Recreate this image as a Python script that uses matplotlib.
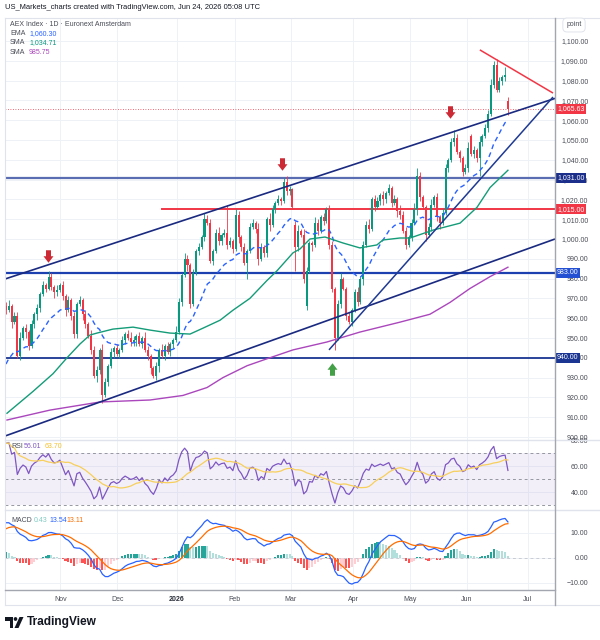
import numpy as np
import matplotlib
matplotlib.use("Agg")
import matplotlib.pyplot as plt
import matplotlib.transforms as mtransforms
from matplotlib.path import Path
from matplotlib.lines import Line2D
from matplotlib.patches import Polygon, Circle

plt.rcParams['font.family'] = ['Liberation Sans', 'DejaVu Sans']

# ---------------- data ----------------
closes = [
    964, 966, 958, 961, 941, 950, 955, 953, 946,
    957, 962, 965, 972, 977, 975, 981, 976, 973,
    974, 977, 971, 964, 969, 961, 952, 967,
    969, 962, 957, 951, 944, 931, 934, 944, 921,
    928, 936, 943, 945, 942, 944, 949, 952, 950,
    948, 949, 951, 947, 950, 944, 941, 935,
    931, 936, 944, 941, 946, 943, 947, 949, 953,
    968, 982, 990, 987, 967, 983, 994, 996, 1001,
    1010, 1008, 989, 994, 1003, 999, 1002, 1003,
    997, 999, 995, 1012, 1001, 996, 988, 994, 1006,
    1008, 1005, 990, 996, 993, 1010, 1007, 1015, 1018,
    1020, 1019, 1029, 1024, 1025, 1016, 996, 1004, 1002,
    980, 984, 998, 997, 1008, 1004, 1011, 1009, 1015,
    997, 975, 950, 967, 980, 975, 961, 958,
    964, 973, 968, 980, 997, 1007, 1005, 1020, 1016,
    1019, 1022, 1020, 1023, 1026, 1018, 1020, 1014, 1012,
    1004, 997, 1001, 1008, 1015, 1032, 1021, 1016,
    1002, 1006, 1017, 1021, 1011, 1008, 1013, 1036, 1040,
    1049, 1051, 1044, 1041, 1034, 1036, 1046, 1043, 1045,
    1041, 1049, 1052, 1056, 1063, 1078, 1088, 1075,
    1080, 1082, 1083, 1065.63,
]
up_wick = [
    2, 3, 1, 2, 2, 3, 1, 2, 1,
    2, 1, 2, 1, 2, 1, 3, 2, 1,
    3, 1, 2, 1, 2, 1, 2, 1,
    2, 1, 2, 1, 3, 2, 2, 1, 3,
    2, 1, 2, 1, 2, 1, 2, 1, 2,
    3, 2, 1, 2, 1, 3, 2, 1,
    1, 2, 1, 3, 1, 2, 1, 1, 3,
    2, 1, 3, 2, 1, 2, 1, 2, 1,
    3, 2, 2, 1, 2, 3, 1, 2,
    14, 2, 1, 3, 2, 1, 2, 1, 2,
    2, 1, 3, 2, 1, 1, 3, 2, 1,
    2, 1, 2, 3, 2, 1, 2, 3, 1,
    3, 2, 1, 1, 3, 2, 1, 2, 1,
    2, 2, 1, 2, 3, 1, 1, 2,
    1, 2, 3, 1, 2, 2, 3, 1, 2,
    2, 1, 2, 1, 2, 1, 2, 1, 3,
    2, 2, 1, 2, 3, 4, 2, 1,
    1, 2, 3, 1, 2, 1, 2, 2, 1,
    2, 4, 2, 1, 1, 2, 3, 1, 2,
    1, 3, 1, 2, 2, 3, 2, 3,
    2, 1, 4, 2,
]
down_wick = [
    2, 1, 3, 1, 1, 2, 1, 3, 2,
    1, 2, 3, 2, 1, 2, 1, 2, 3,
    2, 1, 2, 3, 1, 2, 2, 2,
    1, 3, 2, 1, 2, 1, 3, 2, 4,
    1, 2, 1, 3, 1, 2, 1, 2, 1,
    2, 2, 3, 1, 2, 1, 2, 3,
    1, 2, 3, 1, 2, 1, 2, 2, 1,
    1, 2, 1, 3, 2, 1, 1, 2, 1,
    2, 1, 1, 2, 1, 2, 2, 1,
    2, 1, 2, 1, 3, 2, 1, 8, 1,
    1, 2, 3, 1, 2, 2, 3, 1, 2,
    1, 2, 1, 2, 2, 1, 12, 2, 1,
    2, 2, 1, 3, 1, 2, 1, 2, 1,
    2, 2, 6, 1, 2, 1, 2, 1,
    2, 1, 2, 1, 3, 1, 2, 1, 2,
    1, 2, 3, 2, 1, 2, 1, 3, 2,
    1, 2, 1, 2, 1, 3, 2, 1,
    3, 1, 2, 1, 2, 3, 1, 1, 2,
    1, 2, 1, 2, 2, 1, 2, 1, 2,
    2, 9, 2, 1, 2, 1, 2, 1,
    1, 2, 2, 3,
]
open_override = {102: 1007, 106: 966, 164: 1052, 177: 1069.5}

sma50_bar = [0.35, 9.5, 16.6, 21.5, 26.1, 29.6, 32.1, 37.7, 44.8, 50.8, 57.8, 64.9,
             69.5, 75.5, 80, 86, 92, 95.6, 101.2, 103.7, 107.2, 112.5, 118.8, 124.8,
             130.8, 132.9, 138.9, 142.5, 150.6, 160.1, 166.1, 170.7, 177]
sma50_val = [912, 923, 932, 940, 947, 951.5, 952.5, 954.5, 955.5, 954, 952.5, 952,
             955, 959, 964, 970, 979, 984, 993, 995, 1000, 1001, 998, 995.5,
             997, 999.5, 1000.5, 1000.5, 1004.5, 1008, 1016, 1026, 1034.71]
sma200_bar = [0.35, 15.5, 33.1, 50.8, 62.4, 70.9, 76.5, 85, 92, 101.2, 113.2, 124.8,
              138.9, 149.5, 156.6, 163.6, 170.7, 177]
sma200_val = [908.6, 913.6, 917.7, 918.7, 921, 925, 930, 936, 939.5, 944, 948, 953,
              958, 962, 968, 975, 981, 985.75]

ema_seed = 934.0
macd_seed = (951.0, 937.0, 11.0)   # EMA12, EMA26, signal before the first bar
rsi_seed = (4.0, 1.2)              # average gain / loss before the first bar

month_pos = [19.2, 39.3, 60.3, 80.7, 100.5, 122.4, 142.5, 162.4, 184.0]
month_lab = ['Nov', 'Dec', '2026', 'Feb', 'Mar', 'Apr', 'May', 'Jun', 'Jul']
price_ticks = list(range(900, 1101, 10))
rsi_ticks = [40, 60, 80]
macd_ticks = [-10, 0, 10]

# drawings (bar index, price)
upper_channel = [(-0.35, 979.8), (193.6, 1071.0)]
lower_channel = [(-0.35, 900.5), (193.6, 1000.0)]
rising_line = [(113.9, 944.0), (192.9, 1071.7)]
falling_line = [(167.1, 1095.5), (192.9, 1073.7)]
level_lines = [(1031.0, -0.35, '#5a6db3', 1.6, '#1c2f8a'),
               (1015.0, 55.0, '#f23645', 1.4, '#f23645'),
               (983.0, -0.35, '#1c40b0', 1.6, '#2451d4'),
               (940.0, -0.35, '#1a3592', 1.3, '#1a3592')]
down_arrows = [(14.8, 991.4), (97.5, 1037.9), (156.6, 1063.9)]
up_arrows = [(115.1, 934.6)]

legend_ema, legend_sma50, legend_sma200 = '1,060.30', '1,034.71', '985.75'
rsi_legend = ('56.01', '63.70')
macd_legend = ('0.43', '13.54', '13.11')

# ---------------- computations ----------------
c = np.array(closes, dtype=float)
n = len(c)
x = np.arange(n)
o = np.concatenate([[c[0] + 2], c[:-1]])
for k, v in open_override.items():
    o[k] = v
hi = np.maximum(o, c) + np.array(up_wick)
lo = np.minimum(o, c) - np.array(down_wick)

ema = np.empty(n); e = ema_seed
for i in range(n):
    e += 2 / 21 * (c[i] - e); ema[i] = e

e12, e26, sg = macd_seed
macd = np.empty(n); sig = np.empty(n)
for i in range(n):
    e12 += 2 / 13 * (c[i] - e12)
    e26 += 2 / 27 * (c[i] - e26)
    m = e12 - e26
    sg += 2 / 10 * (m - sg)
    macd[i] = m; sig[i] = sg
hist = macd - sig

ag, al = rsi_seed
rsi = np.empty(n)
prev = c[0] - 2
for i in range(n):
    ch = c[i] - prev; prev = c[i]
    ag = (ag * 13 + max(ch, 0)) / 14
    al = (al * 13 + max(-ch, 0)) / 14
    rsi[i] = 100 - 100 / (1 + ag / al)
rsi_ma = np.array([rsi[max(0, i - 13):i + 1].mean() for i in range(n)])

# ---------------- figure ----------------
W, H = 600, 640
fig = plt.figure(figsize=(6, 6.4), dpi=100)
L, R = 5, 555
XL = (-0.35, 193.6)
GRID = '#eef1f6'
TXT = '#4a4d57'


def pane(top, bot):
    a = fig.add_axes([L / W, 1 - bot / H, (R - L) / W, (bot - top) / H])
    for s in a.spines.values():
        s.set_visible(False)
    a.set_xlim(*XL)
    a.set_xticks(month_pos)
    a.tick_params(axis='x', length=0, labelbottom=False)
    a.yaxis.tick_right()
    a.tick_params(axis='y', length=0, pad=24, labelsize=5, labelcolor=TXT)
    a.grid(True, color=GRID, lw=0.7)
    a.set_axisbelow(True)
    return a


ax = pane(18, 440)
ar = pane(440, 510)
am = pane(510, 590)

# main pane
ax.set_ylim(898.5, 1111.6)
ax.set_yticks(price_ticks)
ax.set_yticklabels([f'{v:,.2f}' for v in price_ticks])
for lbl in ax.get_yticklabels():
    lbl.set_ha('right')

UP, DN = '#089981', '#f23645'
cols = np.where(c >= o, UP, DN)
ax.vlines(x, lo, hi, colors=cols, lw=0.6, zorder=3)
body = np.maximum(np.abs(c - o), 0.5)
ax.bar(x, body, bottom=np.minimum(o, c), width=0.72, color=cols, lw=0, zorder=3)

ax.plot(x, ema, color='#2962ff', lw=1.0, dashes=(3.5, 2.6), zorder=4)
ax.plot(sma50_bar, sma50_val, color='#149c78', lw=1.0, zorder=4)
ax.plot(sma200_bar, sma200_val, color='#ab47bc', lw=1.0, zorder=4)

for (y, x0, col, lw, _) in level_lines:
    ax.plot([x0, XL[1]], [y, y], color=col, lw=lw, zorder=2)
for seg, col, lw in [(upper_channel, '#1a2a80', 1.2), (lower_channel, '#1a2a80', 1.2),
                     (rising_line, '#1f3a93', 1.1), (falling_line, '#f23645', 1.1)]:
    (xa, ya), (xb, yb) = seg
    ax.plot([xa, xb], [ya, yb], color=col, lw=lw, zorder=5, solid_capstyle='butt')

ax.axhline(c[-1], color='#f23645', lw=0.6, ls=(0, (1, 2)), zorder=2)

arrow_down = Path([(-0.2, 0.5), (0.2, 0.5), (0.2, 0.02), (0.4, 0.02), (0, -0.5),
                   (-0.4, 0.02), (-0.2, 0.02), (-0.2, 0.5)],
                  [Path.MOVETO] + [Path.LINETO] * 6 + [Path.CLOSEPOLY])
arrow_up = Path([(px, -py) for px, py in arrow_down.vertices], arrow_down.codes)
for bx, by in down_arrows:
    ax.plot([bx], [by], marker=arrow_down, ms=9, color='#cc2b36', mec='#cc2b36', mew=0, zorder=6)
for bx, by in up_arrows:
    ax.plot([bx], [by], marker=arrow_up, ms=9, color='#43a047', mec='#43a047', mew=0, zorder=6)

# price labels on the axis
tb = mtransforms.blended_transform_factory(ax.transAxes, ax.transData)
xa_lbl = (557 - L) / (R - L)
box_items = [(c[-1], '#f23645')] + [(y, bc) for (y, _, _, _, bc) in level_lines]
for y, bc in box_items:
    ax.text(xa_lbl, y, f'{y:,.2f}', transform=tb, fontsize=5, color='white', ha='left',
            va='center', bbox=dict(boxstyle='square,pad=0.22', fc=bc, ec='none'), zorder=10,
            clip_on=False)

# RSI pane
ar.set_ylim(26.3, 80.2)
ar.set_yticks(rsi_ticks)
ar.set_yticklabels([f'{v:.2f}' for v in rsi_ticks])
for lbl in ar.get_yticklabels():
    lbl.set_ha('right')
ar.fill_between(XL, 30, 70, color='#7e57c2', alpha=0.09, lw=0)
for lv in (70, 50, 30):
    ar.axhline(lv, color='#9598a1', lw=0.7, dashes=(3, 3))
ar.plot(x, rsi, color='#7e57c2', lw=0.9)
ar.plot(x, rsi_ma, color='#f7cf5a', lw=0.9)

# MACD pane
am.set_ylim(-12.9, 19.1)
am.set_yticks(macd_ticks)
am.set_yticklabels(['\u221210.00', '0.00', '10.00'])
for lbl in am.get_yticklabels():
    lbl.set_ha('right')
am.axhline(0, color='#c9ccd3', lw=0.7, dashes=(3, 3))
hcol = []
for i, h in enumerate(hist):
    ph = hist[i - 1] if i > 0 else h
    if h >= 0:
        hcol.append('#26a69a' if h >= ph else '#b2dfdb')
    else:
        hcol.append('#ff5252' if h < ph else '#ffcdd2')
am.bar(x, hist, width=0.75, color=hcol, lw=0)
am.plot(x, macd, color='#2962ff', lw=0.9)
am.plot(x, sig, color='#ff6d00', lw=0.9)

am.tick_params(axis='x', labelbottom=True, labelsize=5, labelcolor=TXT, pad=4)
am.set_xticklabels(month_lab)
for lbl in am.get_xticklabels():
    if lbl.get_text() == '2026':
        lbl.set_fontweight('bold')
        lbl.set_color('#2a2e39')


# frame lines
def fline(xs, ys, col, lw=0.8):
    fig.add_artist(Line2D([v / W for v in xs], [1 - v / H for v in ys], color=col, lw=lw,
                          transform=fig.transFigure))


fline([L, W], [18, 18], '#e0e3eb')
fline([L, L], [18, 605], '#e0e3eb')
fline([L, W], [605, 605], '#e0e3eb')
fline([L, W], [440, 440], '#e0e3eb', 1.0)
fline([L, W], [510, 510], '#e0e3eb', 1.0)
fline([L, R], [590, 590], '#a3a6af', 1.0)
fline([R, R], [18, 605], '#a3a6af', 1.0)


# texts
def ftext(px, py, s, **kw):
    kw.setdefault('fontsize', 5)
    kw.setdefault('va', 'center')
    kw.setdefault('color', TXT)
    return fig.text(px / W, 1 - py / H, s, **kw)


ftext(5, 7.5, 'US_Markets_charts created with TradingView.com, Jun 24, 2026 05:08 UTC',
      fontsize=5.4, color='#131722')
ftext(10, 24.5, 'AEX Index \u00b7 1D \u00b7 Euronext Amsterdam')
ftext(10, 33.5, 'EMA'); ftext(29, 33.5, legend_ema, color='#2962ff')
ftext(10, 43, 'SMA'); ftext(29, 43, legend_sma50, color='#089981')
ftext(10, 52.5, 'SMA'); ftext(29, 52.5, legend_sma200, color='#ab47bc')
ftext(11, 447, 'RSI'); ftext(24, 447, rsi_legend[0], color='#7e57c2')
ftext(45, 447, rsi_legend[1], color='#f2c230')
ftext(11, 520, 'MACD'); ftext(34, 520, macd_legend[0], color='#80cbc4')
ftext(49, 520, macd_legend[1], color='#2962ff'); ftext(66, 520, macd_legend[2], color='#ff6d00')
ftext(574, 25, 'point', ha='center',
      bbox=dict(boxstyle='round,pad=0.5,rounding_size=0.6', fc='white', ec='#e0e3eb', lw=0.7))

# TradingView logo
def fx(px): return px / W
def fy(py): return 1 - py / H
logo_col = '#131722'
fig.add_artist(Polygon([(fx(5), fy(617)), (fx(13), fy(617)), (fx(13), fy(628)), (fx(9.5), fy(628)),
                        (fx(9.5), fy(620.5)), (fx(5), fy(620.5))], closed=True,
                       transform=fig.transFigure, fc=logo_col, ec='none'))
fig.add_artist(Circle((fx(15.5), fy(619)), 1.8 / W, transform=fig.transFigure, fc=logo_col, ec='none'))
fig.add_artist(Polygon([(fx(19.5), fy(617)), (fx(23.5), fy(617)), (fx(18.5), fy(628)), (fx(14.5), fy(628))],
                       closed=True, transform=fig.transFigure, fc=logo_col, ec='none'))
ftext(27, 622.5, 'TradingView', fontsize=8.6, fontweight='bold', color=logo_col)

fig.savefig('out.png', dpi=100)
